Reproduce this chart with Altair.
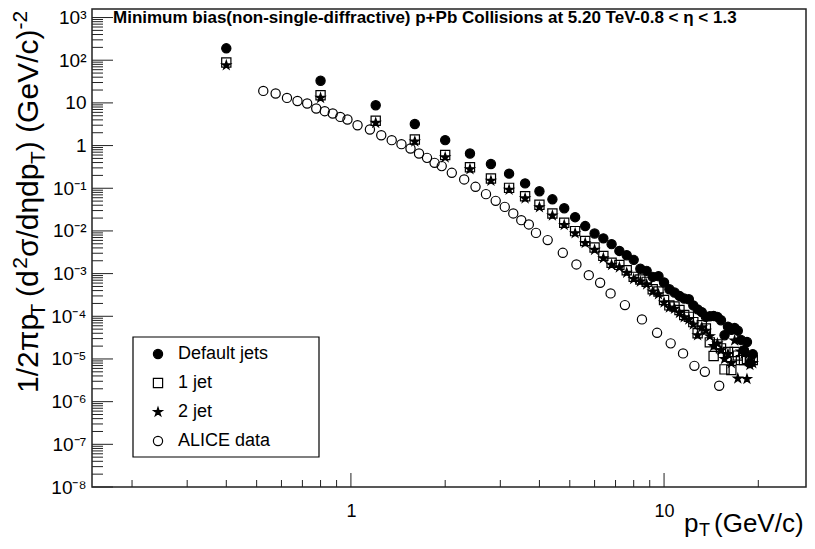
import altair as alt
import pandas as pd

FONT = "Liberation Sans"

SERIES = ["Default jets", "1 jet", "2 jet", "ALICE data"]

X_JETS = [0.4, 0.8, 1.2, 1.6, 2.0, 2.4, 2.8, 3.2, 3.6, 4.0, 4.4, 4.8,
          5.2, 5.6, 6.0, 6.4, 6.8, 7.2, 7.6, 8.0, 8.4, 8.8, 9.2, 9.6,
          10.0, 10.4, 10.8, 11.2, 11.6, 12.0, 12.4, 12.8, 13.2, 13.6, 14.0, 14.4,
          14.8, 15.2, 15.6, 16.0, 16.4, 16.8, 17.2, 17.6, 18.0, 18.4, 18.8, 19.2]

DEFAULT_JETS = [190, 33, 8.8, 3.2, 1.34, 0.65, 0.37, 0.22, 0.13, 0.085, 0.055, 0.034,
                0.021, 0.013, 0.0087, 0.0067, 0.0049, 0.0034, 0.0027, 0.0021, 0.0013, 0.00116, 0.00084, 0.00087,
                0.00062, 0.00043, 0.00036, 0.0003, 0.00026, 0.00025, 0.00018, 0.000145, 0.000125, 9.7e-5, 1.0e-4, 1.02e-4,
                9.7e-5, 8.1e-5, 3.6e-5, 5.7e-5, 4.8e-5, 5.3e-5, 4.6e-5, 2.8e-5, 1.6e-5, 2.5e-5, 8.0e-6, 1.3e-5]

ONE_JET = [88, 15.1, 3.8, 1.39, 0.60, 0.31, 0.17, 0.102, 0.065, 0.041, 0.0257, 0.0155,
           0.0099, 0.0058, 0.0041, 0.0026, 0.0018, 0.0016, 0.0012, 0.00084, 0.00073, 0.00064, 0.00043, 0.00038,
           0.00024, 0.00018, 0.00017, 0.00014, 0.000107, 9.7e-5, 7.3e-5, 4.0e-5, 6.2e-5, 5.2e-5, 2.45e-5, 1.17e-5,
           2.2e-5, 1.77e-5, 5.7e-6, 1.45e-5, 5.5e-6, 1.45e-5, 1.2e-5, 9.4e-6, 9.4e-6, 1.0e-5, 9.0e-6, 9.4e-6]

TWO_JET = [76, 13.1, 3.4, 1.25, 0.53, 0.28, 0.15, 0.092, 0.058, 0.036, 0.023, 0.0138,
           0.0088, 0.0052, 0.0036, 0.0023, 0.0016, 0.0014, 0.00105, 0.00075, 0.00065, 0.00056, 0.00038, 0.00033,
           0.00021, 0.00016, 0.00015, 0.00012, 9.5e-5, 8.4e-5, 6.4e-5, 3.6e-5, 5.5e-5, 4.6e-5, 3.4e-5, 2.0e-5,
           2.3e-5, 1.6e-5, 1.0e-5, 1.3e-5, 8.0e-6, 2.7e-5, 3.5e-6, 1.5e-5, 1.3e-5, 3.4e-6, 7.2e-6, 8.0e-6]

ALICE_PT = [0.525, 0.575, 0.625, 0.675, 0.725, 0.775, 0.825, 0.875, 0.925, 0.975,
            1.05, 1.15, 1.25, 1.35, 1.45, 1.55, 1.65, 1.75, 1.85, 1.95,
            2.1, 2.3, 2.5, 2.7, 2.9, 3.1, 3.3, 3.5, 3.7, 3.9,
            4.25, 4.75, 5.25, 5.75, 6.25, 6.75, 7.5, 8.5, 9.5, 10.5,
            11.5, 12.5, 13.5, 15.0]
ALICE_VAL = [19.1, 16.6, 13.1, 11.1, 9.7, 7.4, 6.4, 5.65, 4.7, 4.08,
             3.0, 2.38, 1.75, 1.34, 1.08, 0.855, 0.653, 0.515, 0.394, 0.33,
             0.23, 0.161, 0.108, 0.0728, 0.0507, 0.0366, 0.0257, 0.0179, 0.0142, 0.009,
             0.0061, 0.00307, 0.00164, 0.00092, 0.00061, 0.000344, 0.000183, 8.45e-5, 4.1e-5, 2.32e-5,
             1.35e-5, 6.9e-6, 5.0e-6, 2.36e-6]

Y_TICKS = [1e-8, 1e-7, 1e-6, 1e-5, 1e-4, 1e-3, 1e-2, 1e-1, 1, 10, 100, 1000]
Y_TICK_LABELS = ["10⁻⁸", "10⁻⁷", "10⁻⁶", "10⁻⁵", "10⁻⁴", "10⁻³", "10⁻²", "10⁻¹",
                 "1", "10", "10²", "10³"]
X_TICKS = [1, 10]
X_TICK_LABELS = ["1", "10"]
X_MINOR = [0.2, 0.3, 0.4, 0.5, 0.6, 0.7, 0.8, 0.9, 2, 3, 4, 5, 6, 7, 8, 9, 20]
Y_MINOR = [m * 10.0 ** e for e in range(-8, 4) for m in range(2, 10) if m * 10.0 ** e < 1585]

TITLE = "Minimum bias(non-single-diffractive) p+Pb Collisions at 5.20 TeV-0.8 < η < 1.3"

W, H = 714, 478
X_DOMAIN = [0.149, 28.4]
Y_DOMAIN = [1e-8, 1585]

rows = []
for name, xs, ys in [("ALICE data", ALICE_PT, ALICE_VAL), ("1 jet", X_JETS, ONE_JET),
                     ("2 jet", X_JETS, TWO_JET), ("Default jets", X_JETS, DEFAULT_JETS)]:
    for xv, yv in zip(xs, ys):
        rows.append({"pT": xv, "value": yv, "series": name})
df = pd.DataFrame(rows)

xscale = alt.Scale(type="log", domain=X_DOMAIN, nice=False, zero=False)
yscale = alt.Scale(type="log", domain=Y_DOMAIN, nice=False, zero=False)

STAR = ("M0,-1L0.2245,-0.309L0.951,-0.309L0.363,0.118L0.588,0.809L0,0.382"
        "L-0.588,0.809L-0.363,0.118L-0.951,-0.309L-0.2245,-0.309Z")

y_label_expr = "[" + ",".join("'%s'" % s for s in Y_TICK_LABELS) + "][round(log(datum.value)/LN10)+8]"
x_label_expr = "[" + ",".join("'%s'" % s for s in X_TICK_LABELS) + "][round(log(datum.value)/LN10)]"

X_AXIS = alt.Axis(values=X_TICKS, labelExpr=x_label_expr, title=None,
                  ticks=False, tickSize=0, domain=False, grid=False, labelFontSize=18,
                  labelFont=FONT, labelColor="black", labelPadding=15)
Y_AXIS = alt.Axis(values=Y_TICKS, labelExpr=y_label_expr, title=None,
                  ticks=False, tickSize=0, domain=False, grid=False, labelFontSize=19,
                  labelFont=FONT, labelColor="black", labelPadding=6)
LEGEND = alt.Legend(title=None, orient="none", legendX=41, legendY=328)

# legend frame (box drawn behind the legend entries)
LEG_BOX = {"x": 41, "x2": 227, "y": 328, "y2": 448}

legend_box = alt.Chart(alt.Data(values=[{"b": 1}])).mark_rect(
    fill="white", stroke="black", strokeWidth=1.2
).encode(x=alt.value(LEG_BOX["x"]), x2=alt.value(LEG_BOX["x2"]),
         y=alt.value(LEG_BOX["y"]), y2=alt.value(LEG_BOX["y2"]))

points = alt.Chart(df).mark_point(filled=True, strokeWidth=1.2, opacity=1).encode(
    x=alt.X("pT:Q", scale=xscale, axis=X_AXIS),
    y=alt.Y("value:Q", scale=yscale, axis=Y_AXIS),
    shape=alt.Shape("series:N", scale=alt.Scale(domain=SERIES, range=["circle", "square", STAR, "circle"]),
                    legend=LEGEND),
    fill=alt.Fill("series:N", scale=alt.Scale(domain=SERIES, range=["black", "transparent", "black", "transparent"]),
                  legend=LEGEND),
    stroke=alt.Stroke("series:N", scale=alt.Scale(domain=SERIES, range=["black", "black", "black", "black"]),
                      legend=LEGEND),
    size=alt.Size("series:N", scale=alt.Scale(domain=SERIES, range=[85, 85, 75, 75]), legend=LEGEND),
)

tick_rule = dict(color="#222222", strokeWidth=1)

y_minor = alt.Chart(pd.DataFrame({"value": Y_MINOR})).mark_rule(**tick_rule).encode(
    y=alt.Y("value:Q", scale=yscale, axis=Y_AXIS), x=alt.value(0), x2=alt.value(11))
y_major = alt.Chart(pd.DataFrame({"value": Y_TICKS})).mark_rule(**tick_rule).encode(
    y=alt.Y("value:Q", scale=yscale, axis=Y_AXIS), x=alt.value(0), x2=alt.value(21))
x_minor = alt.Chart(pd.DataFrame({"pT": X_MINOR})).mark_rule(**tick_rule).encode(
    x=alt.X("pT:Q", scale=xscale, axis=X_AXIS), y=alt.value(H), y2=alt.value(H - 7))
x_major = alt.Chart(pd.DataFrame({"pT": X_TICKS})).mark_rule(**tick_rule).encode(
    x=alt.X("pT:Q", scale=xscale, axis=X_AXIS), y=alt.value(H), y2=alt.value(H - 14))


def txt(s, x, y, size, angle=0, weight="normal"):
    return alt.Chart(alt.Data(values=[{"t": s}])).mark_text(
        font=FONT, fontSize=size, angle=angle, align="left", baseline="alphabetic",
        color="black", fontWeight=weight).encode(x=alt.value(x), y=alt.value(y), text="t:N")


title = alt.Chart(alt.Data(values=[{"t": TITLE}])).mark_text(
    font=FONT, fontSize=17, fontWeight="bold", align="left", baseline="middle", color="black"
).encode(x=alt.value(21), y=alt.value(9), text="t:N")

# y-axis title pieces (rotated, reading bottom to top)
YB = -54
yt = [
    txt("1/2πp", YB, 384, 30, 270),
    txt("T", YB + 7, 307.6, 21, 270),
    txt("(d", YB, 288.0, 30, 270),
    txt("2", YB - 11, 259.8, 21, 270),
    txt("σ/dηdp", YB, 248.1, 30, 270),
    txt("T", YB + 7, 155, 21, 270),
    txt(")\u00a0(GeV/c)", YB, 142.2, 30, 270),
    txt("-2", YB - 11, 20.5, 21, 270),
]
# x-axis title pieces
xt = [
    txt("p", 592, 523, 26),
    txt("T", 607, 527, 18),
    txt("(GeV/c)", 622, 523, 26),
]

chart = alt.layer(legend_box, points, y_minor, y_major, x_minor, x_major, title, *yt, *xt).properties(
    width=W, height=H,
    padding={"left": 84, "top": 1, "right": 1, "bottom": 53},
    autosize=alt.AutoSizeParams(type="none"),
    background="white",
).configure_view(stroke="#222222", strokeWidth=1.5).configure_legend(
    labelFont=FONT, labelFontSize=18, labelColor="black",
    padding=8, rowPadding=11, symbolStrokeWidth=1.2,
    symbolOffset=8, labelOffset=11,
)

chart.save("out.html", embed_options={"renderer": "svg", "actions": False})
